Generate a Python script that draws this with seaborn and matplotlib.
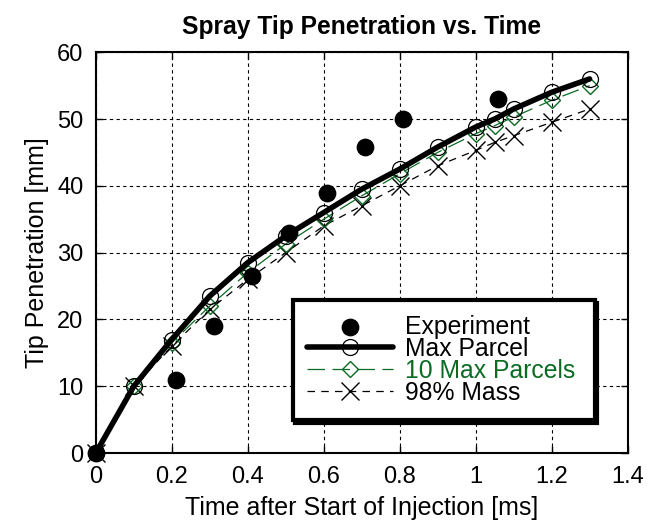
import numpy as np
import pandas as pd
import matplotlib
matplotlib.use("Agg")
import matplotlib.pyplot as plt
import seaborn as sns

# dados
tempo_exp = [0.0, 0.21, 0.31, 0.41, 0.51, 0.61, 0.71, 0.81, 1.06]
penet_exp = [0.0, 11.0, 19.0, 26.5, 33.0, 39.0, 45.8, 50.0, 53.0]

tempo_sim = [0.0, 0.1, 0.2, 0.3, 0.4, 0.5, 0.6, 0.7, 0.8, 0.9, 1.0, 1.05, 1.1, 1.2, 1.3]
max_parcel = [0.0, 10.0, 17.0, 23.5, 28.5, 32.5, 36.0, 39.5, 42.5, 45.8, 48.8, 50.0, 51.5, 54.0, 56.0]
max10_parcels = [0.0, 10.0, 16.5, 22.0, 27.0, 31.3, 35.0, 38.5, 41.8, 45.0, 47.8, 49.0, 50.3, 52.8, 55.0]
massa98 = [0.0, 10.0, 16.0, 21.5, 26.0, 30.0, 34.0, 37.0, 40.0, 43.0, 45.3, 46.5, 47.5, 49.5, 51.5]

x_ticks = [0, 0.2, 0.4, 0.6, 0.8, 1, 1.2, 1.4]
x_labels = ["0", "0.2", "0.4", "0.6", "0.8", "1", "1.2", "1.4"]
y_ticks = [0, 10, 20, 30, 40, 50, 60]

verde = "#0a6b23"

sns.set_style("ticks")
plt.rcParams["font.family"] = ["Liberation Sans", "DejaVu Sans"]
plt.rcParams["text.color"] = "black"
plt.rcParams["axes.labelcolor"] = "black"
plt.rcParams["xtick.color"] = "black"
plt.rcParams["ytick.color"] = "black"

fig = plt.figure(figsize=(6.47, 5.22), dpi=100)
ax = fig.add_axes([0.148, 0.132, 0.822, 0.768])

sim = pd.DataFrame({"t": tempo_sim, "max": max_parcel, "max10": max10_parcels, "m98": massa98})
exp = pd.DataFrame({"t": tempo_exp, "p": penet_exp})

sns.lineplot(data=sim, x="t", y="m98", ax=ax, color="black", lw=0.9,
             linestyle=(0, (6, 5)), marker="x", markersize=12.5, mew=1.0,
             mec="black", label="98% Mass", zorder=3, clip_on=False)
sns.lineplot(data=sim, x="t", y="max10", ax=ax, color=verde, lw=0.9,
             linestyle=(0, (14, 6)), marker="D", markersize=8.5, mew=1.0,
             mfc="none", mec=verde, label="10 Max Parcels", zorder=4, clip_on=False)
sns.lineplot(data=sim, x="t", y="max", ax=ax, color="black", lw=4,
             marker="o", markersize=11.5, mew=0.9, mfc="none", mec="black",
             label="Max Parcel", zorder=5, clip_on=False)
sns.scatterplot(data=exp, x="t", y="p", ax=ax, color="black", s=140,
                edgecolor="black", label="Experiment", zorder=6, clip_on=False)

ax.set_xlim(0, 1.4)
ax.set_ylim(0, 60)
ax.set_xticks(x_ticks)
ax.set_xticklabels(x_labels)
ax.set_yticks(y_ticks)
ax.tick_params(direction="in", top=True, right=True, labelsize=17, length=5, width=1)
ax.tick_params(axis="x", pad=9)
ax.tick_params(axis="y", pad=9)
ax.grid(True, color="black", linestyle=(0, (3, 3)), lw=0.8)
for s in ax.spines.values():
    s.set_linewidth(1.5)
    s.set_color("black")

ax.set_xlabel("Time after Start of Injection [ms]", fontsize=18, labelpad=6)
ax.set_ylabel("Tip Penetration [mm]", fontsize=18, labelpad=6)
ax.set_title("Spray Tip Penetration vs. Time", fontsize=17.7, fontweight="bold", pad=13)

handles, labels = ax.get_legend_handles_labels()
ordem = ["Experiment", "Max Parcel", "10 Max Parcels", "98% Mass"]
hs = [handles[labels.index(n)] for n in ordem]
leg = ax.legend(hs, ordem, loc="upper left", bbox_to_anchor=(0.370, 0.3815, 0.568, 0.0),
                mode="expand", fontsize=17.8, frameon=True, fancybox=False,
                shadow={"color": "black", "alpha": 1}, handlelength=3.45,
                labelspacing=-0.08, borderpad=0.6, handletextpad=0.5, borderaxespad=0)
leg.get_frame().set_edgecolor("black")
leg.get_frame().set_linewidth(3)
leg.get_frame().set_alpha(1)
leg.get_texts()[2].set_color(verde)
leg.set_zorder(10)

plt.savefig("out.png", dpi=100, facecolor="white")
